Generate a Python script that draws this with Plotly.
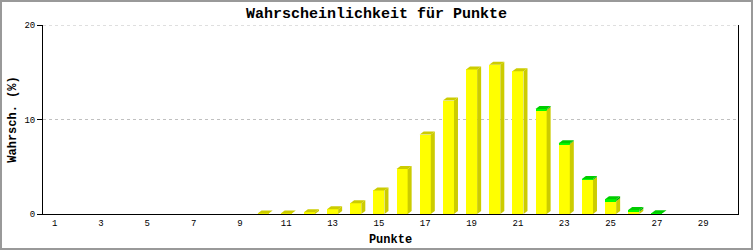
import plotly.graph_objects as go

# ---- data ----
punkte = list(range(10, 28))
gelb = [0.05, 0.05, 0.18, 0.5, 1.13, 2.5, 4.76, 8.4, 12.0, 15.3, 15.8, 15.1,
        11.0, 7.4, 3.6, 1.35, 0.25, 0.0]
gruen = [0, 0, 0, 0, 0, 0, 0, 0, 0, 0, 0, 0,
         0.1, 0.1, 0.1, 0.2, 0.18, 0.08]
x_ticks = list(range(1, 30, 2))
y_ticks = [0, 10, 20]
title_text = "Wahrscheinlichkeit für Punkte"
x_title = "Punkte"
y_title = "Wahrsch. (%)"

# ---- geometry (style) ----
W, H = 753, 250
ML, MR, MT, MB = 43, 15, 25, 36
XR = [0.5, 30.5]
YR = [0, 20]
bw = 0.48
px_x = (W - ML - MR) / (XR[1] - XR[0])
px_y = (H - MT - MB) / (YR[1] - YR[0])
dx = 4 / px_x
dy = 3 / px_y

FONT = "Liberation Mono"
fig = go.Figure()

# side and top faces (3D effect) built from data values
for c, v, g in zip(punkte, gelb, gruen):
    t = v + g
    r = c + bw / 2
    l = c - bw / 2
    fig.add_trace(go.Scatter(
        x=[r, r + dx, r + dx, r, r], y=[0, dy, v + dy, v, 0],
        fill="toself", fillcolor="#cccc00", line=dict(width=0),
        mode="lines", hoverinfo="skip", showlegend=False))
    if g > 0:
        fig.add_trace(go.Scatter(
            x=[r, r + dx, r + dx, r, r], y=[v, v + dy, t + dy, t, v],
            fill="toself", fillcolor="#00b000", line=dict(width=0),
            mode="lines", hoverinfo="skip", showlegend=False))
    fig.add_trace(go.Scatter(
        x=[l, r, r + dx, l + dx, l], y=[t, t, t + dy, t + dy, t],
        fill="toself", fillcolor="#00cc00" if g > 0 else "#cccc00",
        line=dict(width=0), mode="lines", hoverinfo="skip", showlegend=False))

# front faces
fig.add_trace(go.Bar(x=punkte, y=gelb, width=bw, marker=dict(color="#ffff00", line=dict(width=0)),
                     showlegend=False))
fig.add_trace(go.Bar(x=punkte, y=gruen, width=bw, marker=dict(color="#00ff00", line=dict(width=0)),
                     showlegend=False))

grid_shapes = [dict(type="line", xref="paper", yref="y", x0=0, x1=1, y0=v, y1=v,
                    line=dict(color="#c0c0c0", width=1, dash="dot"), layer="below")
               for v in y_ticks[1:]]
border = dict(type="rect", xref="paper", yref="paper",
              x0=-(ML - 1) / (W - ML - MR), x1=1 + (MR - 1) / (W - ML - MR),
              y0=-(MB - 1) / (H - MT - MB), y1=1 + (MT - 1) / (H - MT - MB),
              line=dict(color="#999999", width=2), layer="below")

fig.update_layout(
    barmode="stack",
    width=W, height=H,
    margin=dict(l=ML, r=MR, t=MT, b=MB, pad=0),
    paper_bgcolor="white", plot_bgcolor="white",
    title=dict(text=title_text, x=0.5, xanchor="center", y=1 - 13 / H, yanchor="middle",
               yref="container", font=dict(family=FONT, size=15, color="black", weight="bold")),
    xaxis=dict(range=XR, tickvals=x_ticks, ticktext=[str(v) for v in x_ticks],
               showline=True, linecolor="black", linewidth=1, showgrid=False, zeroline=False,
               ticks="", tickfont=dict(family=FONT, size=9, color="black"),
               title=dict(text=x_title, standoff=6,
                          font=dict(family=FONT, size=12, color="black", weight="bold")),
               automargin=False, fixedrange=True),
    yaxis=dict(range=YR, tickvals=y_ticks, showline=True, mirror=True, linecolor="black",
               linewidth=1, showgrid=False,
               zeroline=False, ticks="outside", ticklen=5, tickcolor="black",
               tickfont=dict(family=FONT, size=9, color="black"),
               title=dict(text=y_title, standoff=5,
                          font=dict(family=FONT, size=12, color="black", weight="bold")),
               automargin=False, fixedrange=True),
    shapes=grid_shapes + [border],
)

fig.write_html("out.html", config={"displayModeBar": False})
